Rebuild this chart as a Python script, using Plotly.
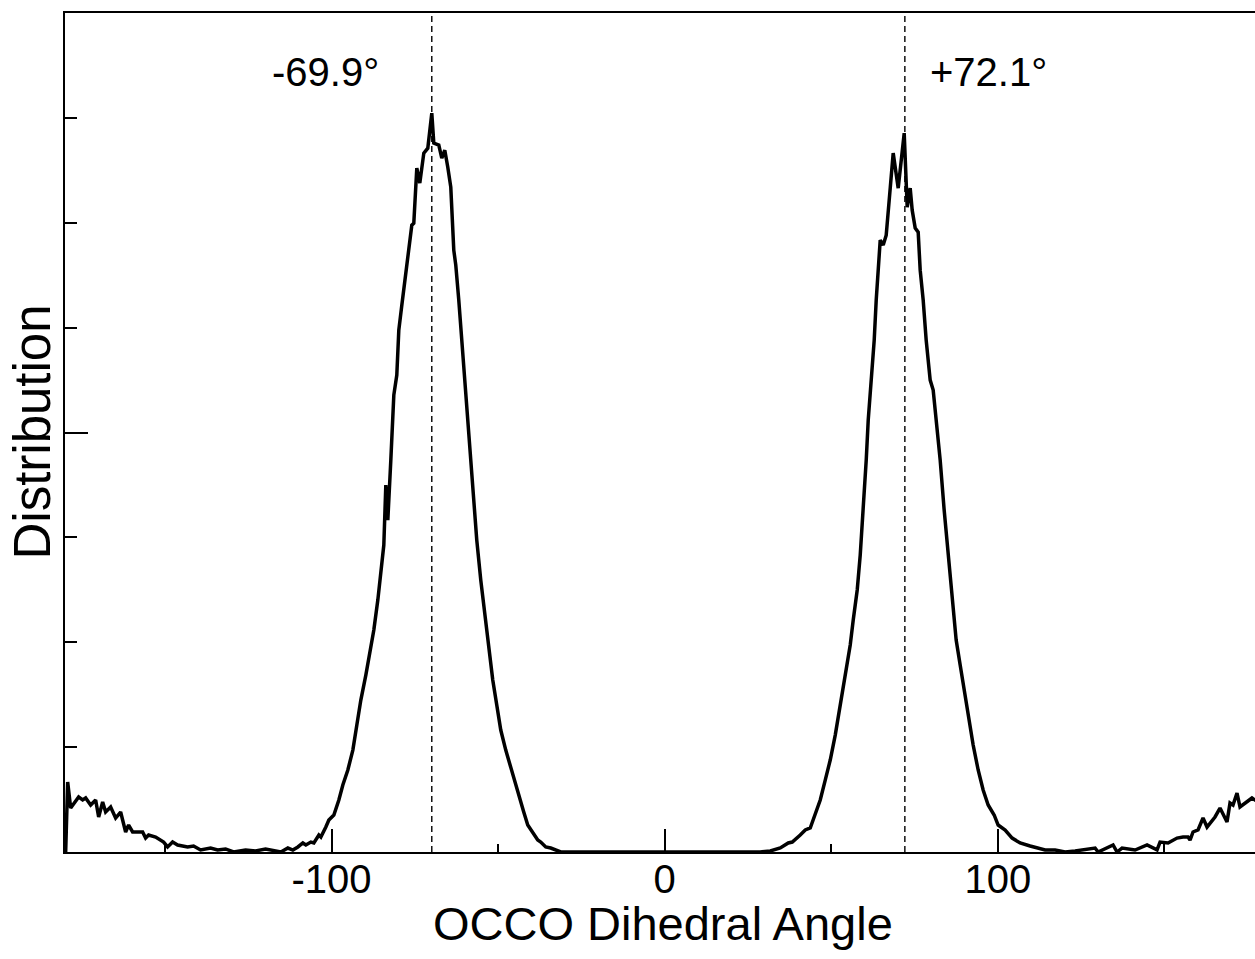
import plotly.graph_objects as go

# OCCO dihedral angle (degrees)
angles = [
    -179.8, -179.2, -178.3, -175.9, -174.7, -173.8, -172.3, -170.8, -169.9, -168.7,
    -167.8, -166.3, -164.8, -163.3, -161.8, -160.9, -159.7, -156.7, -155.8, -154.9,
    -152.8, -150.4, -149.2, -147.7, -146.2, -143.2, -141.4, -139.3, -136.3, -134.2,
    -131.8, -129.4, -125.8, -122.8, -119.8, -115.2, -113.1, -111.6, -110.1, -108.6,
    -107.7, -106.2, -105.3, -103.8, -103.2, -102.3, -101.7, -100.8, -99.3, -97.8,
    -96.6, -95.1, -94.2, -93.6, -92.4, -91.2, -89.7, -88.2, -87.3, -86.1,
    -85.2, -84.3, -83.7, -83.1, -82.2, -81.3, -80.4, -79.8, -78.9, -78.0,
    -77.4, -76.8, -75.9, -75.3, -74.4, -73.5, -72.3, -71.1, -69.9, -69.3,
    -67.8, -66.9, -66.0, -65.1, -64.2, -63.3, -62.7, -61.8, -60.9, -60.0,
    -59.1, -58.2, -57.3, -56.4, -55.2, -54.0, -52.8, -51.6, -50.4, -49.2,
    -47.7, -46.2, -44.7, -43.5, -42.3, -41.1, -39.6, -38.1, -37.2, -35.7,
    -34.2, -31.2, -28.2, -22.0, -15.0, -8.0, 0.0, 8.0, 15.0, 22.0,
    28.7, 31.7, 34.7, 37.1, 38.3, 40.7, 42.2, 43.7, 45.2, 46.7,
    48.2, 49.7, 51.2, 52.7, 54.2, 55.7, 56.6, 57.8, 58.7, 59.6,
    60.5, 61.1, 62.0, 62.9, 63.5, 64.1, 64.7, 65.6, 66.5, 67.4,
    68.6, 70.1, 71.6, 71.9, 72.8, 73.7, 74.3, 75.2, 76.1, 76.7,
    77.6, 78.5, 79.7, 80.6, 81.5, 82.7, 83.9, 85.1, 86.3, 87.5,
    88.7, 89.9, 91.1, 92.6, 94.1, 95.6, 97.1, 98.9, 100.1, 102.2,
    104.3, 106.7, 109.7, 114.2, 117.2, 120.2, 123.2, 129.2, 130.1, 134.6,
    135.8, 137.3, 141.2, 144.8, 147.8, 148.7, 151.1, 153.8, 155.6, 157.1,
    157.7, 158.6, 160.1, 161.6, 162.8, 165.2, 166.7, 168.8, 169.7, 170.6,
    171.8, 172.7, 176.3, 177.2, 178.5,
]

# Distribution (arbitrary units, axis spans 0..8)
distribution = [
    0.000, 0.667, 0.419, 0.524, 0.496, 0.515, 0.448, 0.496, 0.334, 0.477,
    0.381, 0.429, 0.324, 0.381, 0.191, 0.257, 0.191, 0.191, 0.133, 0.162,
    0.143, 0.095, 0.048, 0.095, 0.067, 0.048, 0.057, 0.019, 0.038, 0.019,
    0.029, 0.000, 0.019, 0.010, 0.029, 0.000, 0.038, 0.019, 0.048, 0.086,
    0.067, 0.095, 0.086, 0.162, 0.143, 0.191, 0.238, 0.305, 0.353, 0.496,
    0.639, 0.782, 0.896, 0.972, 1.211, 1.449, 1.687, 1.945, 2.116, 2.402,
    2.641, 2.927, 3.499, 3.165, 3.737, 4.357, 4.547, 4.976, 5.214, 5.453,
    5.624, 5.739, 5.977, 5.996, 6.521, 6.378, 6.664, 6.711, 7.045, 6.759,
    6.740, 6.616, 6.692, 6.530, 6.340, 5.739, 5.596, 5.262, 4.881, 4.500,
    4.118, 3.737, 3.356, 2.974, 2.593, 2.259, 1.926, 1.640, 1.401, 1.163,
    0.972, 0.801, 0.639, 0.496, 0.381, 0.257, 0.181, 0.114, 0.095, 0.048,
    0.038, 0.000, 0.000, 0.000, 0.000, 0.000, 0.000, 0.000, 0.000, 0.000,
    0.000, 0.010, 0.038, 0.086, 0.095, 0.162, 0.210, 0.229, 0.353, 0.496,
    0.686, 0.877, 1.115, 1.401, 1.687, 1.973, 2.212, 2.498, 2.831, 3.260,
    3.737, 4.118, 4.500, 4.881, 5.262, 5.596, 5.834, 5.787, 5.882, 6.216,
    6.664, 6.330, 6.807, 6.854, 6.149, 6.330, 6.120, 5.949, 5.911, 5.548,
    5.262, 4.881, 4.500, 4.405, 4.118, 3.737, 3.260, 2.831, 2.402, 2.021,
    1.783, 1.544, 1.306, 1.020, 0.782, 0.591, 0.448, 0.353, 0.257, 0.210,
    0.133, 0.086, 0.057, 0.019, 0.019, 0.000, 0.010, 0.038, 0.000, 0.067,
    0.000, 0.038, 0.019, 0.067, 0.020, 0.095, 0.086, 0.133, 0.143, 0.143,
    0.114, 0.191, 0.210, 0.324, 0.238, 0.334, 0.419, 0.286, 0.467, 0.448,
    0.562, 0.429, 0.515, 0.496, 0.520,
]

peak_angles = [-69.9, 72.1]
peak_labels = ["-69.9°", "+72.1°"]
label_angles = [-101.7, 97.1]
label_level = 7.44

x_tickvals = [-100, 0, 100]
x_ticktext = ["-100", "0", "100"]
x_range = [-180, 177.2]
y_range = [0, 8]

FONT = "Liberation Sans, Arial, Helvetica, sans-serif"

fig = go.Figure()
fig.add_trace(go.Scatter(
    x=angles, y=distribution, mode="lines",
    line=dict(color="black", width=3.5),
    showlegend=False, hoverinfo="skip",
))

for a in peak_angles:
    fig.add_shape(type="line", xref="x", yref="paper", x0=a, x1=a, y0=0, y1=1,
                  line=dict(color="black", width=1.4, dash="6px,4px"), layer="below")

for a, t in zip(label_angles, peak_labels):
    fig.add_annotation(x=a, y=label_level, xref="x", yref="y", text=t,
                       showarrow=False, xanchor="center", yanchor="middle",
                       font=dict(family=FONT, size=40, color="black"))

# axis titles as paper annotations for precise placement
fig.add_annotation(x=0.5024, y=0, xref="paper", yref="paper",
                   text="OCCO Dihedral Angle", showarrow=False,
                   xanchor="center", yanchor="top", yshift=-43,
                   font=dict(family=FONT, size=47, color="black"))
fig.add_annotation(x=0, y=0.5, xref="paper", yref="paper",
                   text="Distribution", showarrow=False, textangle=-90,
                   xanchor="center", yanchor="middle", xshift=-33,
                   font=dict(family=FONT, size=51, color="black"))

fig.update_layout(
    width=1255, height=959,
    margin=dict(l=65, r=0, t=13, b=107),
    paper_bgcolor="white", plot_bgcolor="white",
    font=dict(family=FONT, color="black"),
    xaxis=dict(
        range=x_range, showgrid=False, zeroline=False,
        showline=True, linecolor="black", linewidth=2, mirror=True,
        ticks="inside", ticklen=23, tickwidth=1.8, tickcolor="black",
        tickvals=x_tickvals, ticktext=x_ticktext,
        ticklabelstandoff=-9,
        tickfont=dict(family=FONT, size=40, color="black"),
        minor=dict(ticks="inside", ticklen=8, tickwidth=1.5, tickcolor="black",
                   tick0=0, dtick=50),
    ),
    yaxis=dict(
        range=y_range, showgrid=False, zeroline=False,
        showline=True, linecolor="black", linewidth=2, mirror=False,
        ticks="inside", ticklen=23, tickwidth=1.8, tickcolor="black",
        tick0=0, dtick=4, showticklabels=False,
        minor=dict(ticks="inside", ticklen=12, tickwidth=1.5, tickcolor="black",
                   tick0=0, dtick=1),
    ),
)

fig.write_html(
    "out.html",
    config={"displayModeBar": False},
    post_script="document.body.style.margin='0';"
                "document.body.style.overflow='hidden';"
                "document.documentElement.style.overflow='hidden';",
)
